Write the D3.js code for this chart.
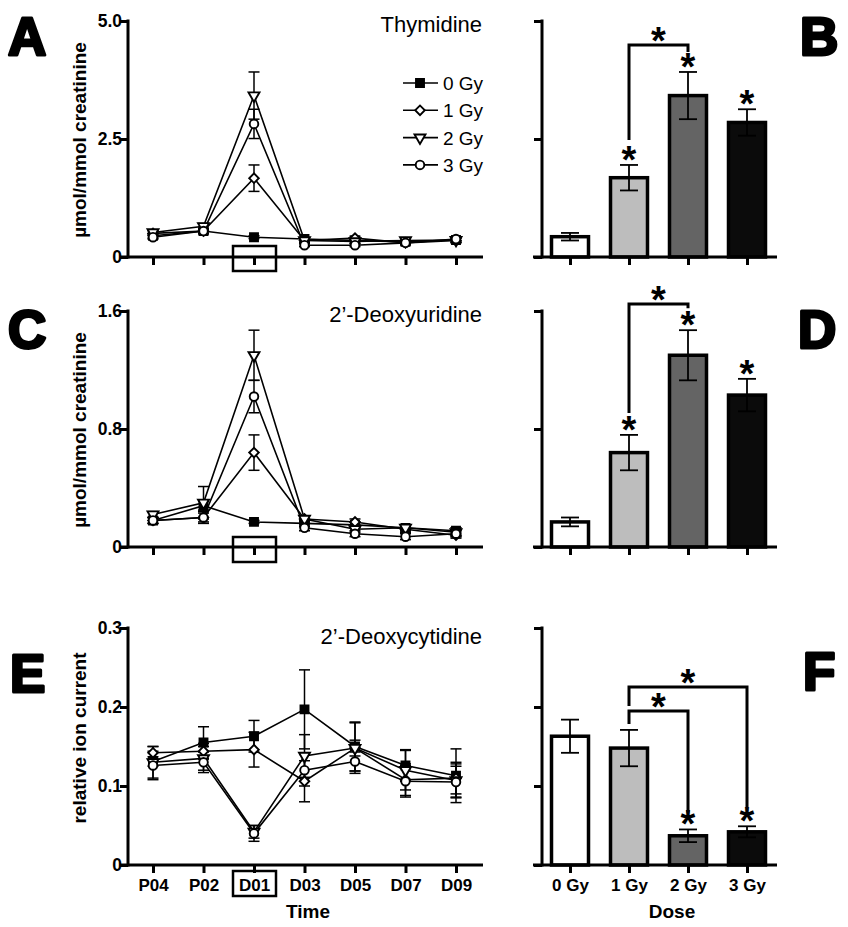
<!DOCTYPE html>
<html><head><meta charset="utf-8">
<script src="https://cdn.jsdelivr.net/npm/d3@7"></script>
<style>body{margin:0;background:#fff}</style>
</head><body>
<svg id="c" width="848" height="927" xmlns="http://www.w3.org/2000/svg"></svg>
<script>
// ---------------- DATA ----------------
const times = ["P04","P02","D01","D03","D05","D07","D09"];
const doses = ["0 Gy","1 Gy","2 Gy","3 Gy"];

// Panel A – Thymidine (µmol/mmol creatinine)
const thy0 = [0.45,0.55,0.42,0.38,0.35,0.32,0.36];
const thy0Sem = [0.05,0.05,0.03,0.03,0.03,0.03,0.05];
const thy1 = [0.50,0.55,1.67,0.35,0.40,0.30,0.35];
const thy1Sem = [0.05,0.06,0.28,0.04,0.04,0.04,0.05];
const thy2 = [0.52,0.65,3.42,0.35,0.33,0.35,0.36];
const thy2Sem = [0.05,0.06,0.50,0.04,0.04,0.04,0.05];
const thy3 = [0.42,0.55,2.82,0.25,0.25,0.30,0.38];
const thy3Sem = [0.04,0.05,0.31,0.03,0.03,0.04,0.05];
// Panel B – Thymidine at D01
const thyBar = [0.43,1.68,3.42,2.85];
const thyBarSem = [0.08,0.27,0.50,0.28];
const thyTicks = [0,2.5,5];
const thyTickLabels = ["0","2.5","5.0"];

// Panel C – 2'-Deoxyuridine
const dU0 = [0.18,0.28,0.17,0.16,0.15,0.13,0.11];
const dU0Sem = [0.02,0.03,0.01,0.02,0.02,0.02,0.02];
const dU1 = [0.18,0.20,0.64,0.19,0.17,0.12,0.08];
const dU1Sem = [0.02,0.04,0.12,0.02,0.02,0.02,0.02];
const dU2 = [0.22,0.30,1.30,0.19,0.12,0.13,0.10];
const dU2Sem = [0.02,0.11,0.17,0.02,0.02,0.02,0.03];
const dU3 = [0.18,0.20,1.02,0.13,0.09,0.07,0.09];
const dU3Sem = [0.02,0.03,0.11,0.02,0.02,0.02,0.02];
// Panel D
const dUBar = [0.17,0.64,1.30,1.03];
const dUBarSem = [0.03,0.12,0.17,0.11];
const dUTicks = [0,0.8,1.6];
const dUTickLabels = ["0","0.8","1.6"];

// Panel E – 2'-Deoxycytidine (relative ion current)
const dC0 = [0.131,0.155,0.163,0.197,0.150,0.126,0.113];
const dC0Sem = [0.006,0.020,0.020,0.050,0.031,0.020,0.034];
const dC1 = [0.142,0.144,0.146,0.106,0.148,0.108,0.110];
const dC1Sem = [0.008,0.010,0.022,0.026,0.010,0.020,0.020];
const dC2 = [0.130,0.135,0.042,0.138,0.148,0.120,0.107];
const dC2Sem = [0.020,0.015,0.008,0.027,0.032,0.025,0.021];
const dC3 = [0.126,0.130,0.040,0.120,0.131,0.106,0.105];
const dC3Sem = [0.018,0.013,0.010,0.020,0.012,0.020,0.020];
// Panel F
const dCBar = [0.163,0.148,0.037,0.042];
const dCBarSem = [0.021,0.023,0.008,0.007];
const dCTicks = [0,0.1,0.2,0.3];
const dCTickLabels = ["0","0.1","0.2","0.3"];

// ---------------- DRAWING ----------------
const svg = d3.select("#c");
const FONT = "'Liberation Sans', Arial, Helvetica, sans-serif";
const markerTypes = ["square","diamond","triangle","circle"];
const barFills = ["#ffffff","#bdbdbd","#646464","#0b0b0b"];

function drawMarker(g, type, x, y) {
  let sym, fill = "#fff", rot = 0;
  if (type === "square") { sym = d3.symbol(d3.symbolSquare, 64); fill = "#000"; }
  else if (type === "diamond") { sym = d3.symbol(d3.symbolSquare, 46); rot = 45; }
  else if (type === "triangle") { sym = d3.symbol(d3.symbolTriangle, 52); rot = 180; }
  else { sym = d3.symbol(d3.symbolCircle, 58); }
  g.append("path").attr("d", sym())
    .attr("transform", `translate(${x},${y}) rotate(${rot})`)
    .attr("fill", fill).attr("stroke", "#000").attr("stroke-width", 1.9);
}

function yAxis(g, y, axisX, ticks, labels) {
  const ax = d3.axisLeft(y).tickValues(ticks).tickSize(8).tickSizeOuter(0)
    .tickFormat((d, i) => labels ? labels[i] : "");
  const ag = g.append("g").attr("transform", `translate(${axisX},0)`).call(ax);
  ag.select(".domain").remove();
  ag.selectAll(".tick line").attr("stroke", "#000").attr("stroke-width", 3);
  ag.selectAll(".tick text").attr("font-family", FONT).attr("font-weight", "bold")
    .attr("font-size", 17.5).attr("fill", "#000").attr("x", -6);
  const r = y.range();
  g.append("line").attr("x1", axisX).attr("x2", axisX).attr("y1", r[0] + 1.5).attr("y2", r[1] - 1.5)
    .attr("stroke", "#000").attr("stroke-width", 3);
}

function xAxis(g, x, yPos, xStart, xEnd, labels) {
  const ax = d3.axisBottom(x).tickSize(8).tickSizeOuter(0).tickPadding(6)
    .tickFormat(d => labels ? d : "");
  const ag = g.append("g").attr("transform", `translate(0,${yPos})`).call(ax);
  ag.select(".domain").remove();
  ag.selectAll(".tick line").attr("stroke", "#000").attr("stroke-width", 3);
  ag.selectAll(".tick text").attr("font-family", FONT).attr("font-weight", "bold")
    .attr("font-size", 17).attr("fill", "#000");
  g.append("line").attr("x1", xStart).attr("x2", xEnd).attr("y1", yPos).attr("y2", yPos)
    .attr("stroke", "#000").attr("stroke-width", 3);
}

function linePanel(cfg) {
  const g = svg.append("g");
  const x = d3.scalePoint().domain(times).range([153, 456]);
  const y = d3.scaleLinear().domain([0, cfg.ticks[cfg.ticks.length - 1]]).range([cfg.yBot, cfg.yTop]);
  yAxis(g, y, 128, cfg.ticks, cfg.labels);
  xAxis(g, x, cfg.yBot, 120, 483, cfg.xLabels);
  // box around D01
  g.append("rect").attr("x", x("D01") - 21).attr("y", cfg.yBot + cfg.boxDy)
    .attr("width", 43).attr("height", 25)
    .attr("fill", "none").attr("stroke", "#000").attr("stroke-width", 2.5);
  const line = d3.line().x((d, i) => x(times[i])).y(d => y(d));
  cfg.series.forEach(s => {
    g.append("path").attr("d", line(s.m)).attr("fill", "none")
      .attr("stroke", "#000").attr("stroke-width", 1.6);
  });
  cfg.series.forEach(s => {
    s.m.forEach((v, i) => {
      const cx = x(times[i]), top = y(v + s.e[i]), bot = y(v - s.e[i]);
      g.append("line").attr("x1", cx).attr("x2", cx).attr("y1", top).attr("y2", bot)
        .attr("stroke", "#000").attr("stroke-width", 1.5);
      [top, bot].forEach(yy => g.append("line").attr("x1", cx - 5.5).attr("x2", cx + 5.5)
        .attr("y1", yy).attr("y2", yy).attr("stroke", "#000").attr("stroke-width", 1.5));
    });
  });
  cfg.series.forEach((s, si) => {
    s.m.forEach((v, i) => drawMarker(g, markerTypes[si], x(times[i]), y(v)));
  });
  g.append("text").attr("x", 482).attr("y", cfg.titleY).attr("text-anchor", "end")
    .attr("font-family", FONT).attr("font-size", 22).text(cfg.title);
  g.append("text").attr("transform", `translate(86,${cfg.ylabY}) rotate(-90)`)
    .attr("text-anchor", "middle").attr("font-family", FONT).attr("font-weight", "bold")
    .attr("font-size", 19).text(cfg.ylab);
  if (cfg.xTitle) g.append("text").attr("x", 308).attr("y", 918).attr("text-anchor", "middle")
    .attr("font-family", FONT).attr("font-weight", "bold").attr("font-size", 19).text(cfg.xTitle);
  return { x, y, g };
}

function star(g, x, cy) {
  g.append("text").attr("x", x).attr("y", cy + 17).attr("text-anchor", "middle")
    .attr("font-family", FONT).attr("font-weight", "bold").attr("font-size", 38).text("*");
}

function barPanel(cfg) {
  const g = svg.append("g");
  const x = d3.scalePoint().domain(doses).range([570, 747]);
  const y = d3.scaleLinear().domain([0, cfg.ticks[cfg.ticks.length - 1]]).range([cfg.yBot, cfg.yTop]);
  yAxis(g, y, 542, cfg.ticks, null);
  const bw = 37;
  cfg.m.forEach((v, i) => {
    g.append("rect").attr("x", x(doses[i]) - bw / 2).attr("y", y(v))
      .attr("width", bw).attr("height", y(0) - y(v))
      .attr("fill", barFills[i]).attr("stroke", "#000").attr("stroke-width", 3.5);
  });
  xAxis(g, x, cfg.yBot, 533, 777, cfg.xLabels);
  const errTop = cfg.m.map((v, i) => y(v + cfg.e[i]));
  cfg.m.forEach((v, i) => {
    const cx = x(doses[i]), top = errTop[i], bot = y(v - cfg.e[i]);
    g.append("line").attr("x1", cx).attr("x2", cx).attr("y1", top).attr("y2", bot)
      .attr("stroke", "#000").attr("stroke-width", 1.8);
    [top, bot].forEach(yy => g.append("line").attr("x1", cx - 9).attr("x2", cx + 9)
      .attr("y1", yy).attr("y2", yy).attr("stroke", "#000").attr("stroke-width", 1.8));
  });
  cfg.stars.forEach(i => star(g, x(doses[i]), errTop[i] - 9));
  cfg.brackets.forEach(b => {
    const xa = x(doses[b.a]), xb = x(doses[b.b]);
    const top = errTop[b.a] - b.topOff;
    const left = errTop[b.a] - b.leftOff;
    const right = errTop[b.b] - b.rightOff;
    g.append("path").attr("d", `M${xa},${left}V${top}H${xb}V${right}`)
      .attr("fill", "none").attr("stroke", "#000").attr("stroke-width", 3);
    star(g, (xa + xb) / 2, top - 8);
  });
  if (cfg.xTitle) g.append("text").attr("x", 672).attr("y", 918).attr("text-anchor", "middle")
    .attr("font-family", FONT).attr("font-weight", "bold").attr("font-size", 19).text(cfg.xTitle);
}

function letter(t, x, y) {
  svg.append("text").attr("x", x).attr("y", y).attr("font-family", FONT)
    .attr("font-weight", "bold").attr("font-size", 53).attr("stroke", "#000")
    .attr("stroke-width", 3).attr("stroke-linejoin", "round").text(t);
}

// Panel A
const pA = linePanel({
  yTop: 21, yBot: 257, ticks: thyTicks, labels: thyTickLabels, xLabels: false, boxDy: -11,
  title: "Thymidine", titleY: 32, ylab: "\u00B5mol/mmol creatinine", ylabY: 140,
  series: [{ m: thy0, e: thy0Sem }, { m: thy1, e: thy1Sem }, { m: thy2, e: thy2Sem }, { m: thy3, e: thy3Sem }]
});
// legend
doses.forEach((d, i) => {
  const ly = 83 + i * 27.3;
  pA.g.append("line").attr("x1", 403).attr("x2", 438).attr("y1", ly).attr("y2", ly)
    .attr("stroke", "#000").attr("stroke-width", 1.6);
  drawMarker(pA.g, markerTypes[i], 420, ly);
  pA.g.append("text").attr("x", 443).attr("y", ly + 7).attr("font-family", FONT)
    .attr("font-size", 19).text(d);
});

barPanel({ yTop: 21, yBot: 257, ticks: thyTicks, m: thyBar, e: thyBarSem, xLabels: false,
  stars: [1, 2, 3], brackets: [{ a: 1, b: 2, leftOff: 25, topOff: 120, rightOff: 20 }] });

// Panel C
linePanel({
  yTop: 311, yBot: 547, ticks: dUTicks, labels: dUTickLabels, xLabels: false, boxDy: -10,
  title: "2\u2019-Deoxyuridine", titleY: 322, ylab: "\u00B5mol/mmol creatinine", ylabY: 430,
  series: [{ m: dU0, e: dU0Sem }, { m: dU1, e: dU1Sem }, { m: dU2, e: dU2Sem }, { m: dU3, e: dU3Sem }]
});
barPanel({ yTop: 311, yBot: 547, ticks: dUTicks, m: dUBar, e: dUBarSem, xLabels: false,
  stars: [1, 2, 3], brackets: [{ a: 1, b: 2, leftOff: 22, topOff: 131, rightOff: 22 }] });

// Panel E
const pE = linePanel({
  yTop: 628, yBot: 865, ticks: dCTicks, labels: dCTickLabels, xLabels: true, boxDy: 6,
  title: "2\u2019-Deoxycytidine", titleY: 644, ylab: "relative ion current", ylabY: 738,
  xTitle: "Time",
  series: [{ m: dC0, e: dC0Sem }, { m: dC1, e: dC1Sem }, { m: dC2, e: dC2Sem }, { m: dC3, e: dC3Sem }]
});
barPanel({ yTop: 628, yBot: 865, ticks: dCTicks, m: dCBar, e: dCBarSem, xLabels: true,
  xTitle: "Dose", stars: [2, 3],
  brackets: [{ a: 1, b: 2, leftOff: 6, topOff: 19, rightOff: 17 },
             { a: 1, b: 3, leftOff: 24, topOff: 43, rightOff: 19 }] });

letter("A", 8, 55); letter("B", 800, 55);
letter("C", 8, 348); letter("D", 798, 348);
letter("E", 10, 692); letter("F", 803, 690);
</script>
</body></html>
